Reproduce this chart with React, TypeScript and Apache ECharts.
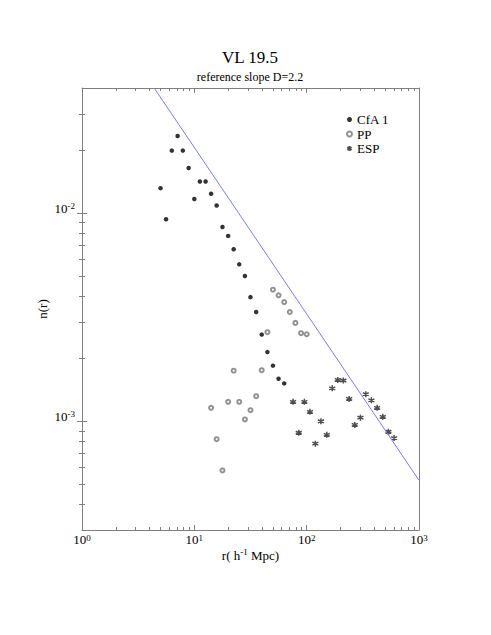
import React, { useEffect, useRef } from 'react';
import * as echarts from 'echarts';

// ---- data ----
const cfaR = [5.0, 5.6, 6.3, 7.1, 7.9, 8.9, 10.0, 11.2, 12.6, 14.1, 15.8, 17.8, 20.0, 22.4, 25.1, 28.2, 31.6, 35.5, 39.8, 44.7, 50.1, 56.2, 63.1];
const cfaN = [0.0132, 0.00936, 0.0200, 0.0235, 0.0200, 0.0165, 0.0117, 0.0142, 0.0142, 0.0124, 0.0109, 0.00859, 0.00778, 0.00671, 0.00568, 0.00499, 0.00395, 0.00335, 0.00261, 0.00215, 0.00185, 0.00160, 0.00152];

const ppR = [14.1, 15.8, 17.8, 20.0, 22.4, 25.1, 28.2, 31.6, 35.5, 39.8, 44.7, 50.1, 56.2, 63.1, 70.8, 79.4, 89.1, 100];
const ppN = [0.00116, 0.00082, 0.00058, 0.00124, 0.00175, 0.00124, 0.00102, 0.00113, 0.00132, 0.00176, 0.00268, 0.00429, 0.00403, 0.00374, 0.00335, 0.00297, 0.00265, 0.00262];

const espR = [75.7, 85, 95.4, 107, 119.5, 134, 151, 169, 189, 212, 239, 268, 301, 336, 377, 424, 476, 534, 600];
const espN = [0.00124, 0.00088, 0.00124, 0.00111, 0.00078, 0.00100, 0.00086, 0.00144, 0.00158, 0.00157, 0.00128, 0.00096, 0.00104, 0.00135, 0.00126, 0.00116, 0.00105, 0.00089, 0.00083];

// reference slope D=2.2 line endpoints
const refR = [4.39, 1000];
const refN = [0.04, 0.00052];

const seriesNames = ['CfA 1', 'PP', 'ESP'];
const titleText = 'VL 19.5';
const subtitleText = 'reference slope D=2.2';
const xName = 'r( h{s|-1} Mpc)';
const yName = 'n(r)';

const xMin = 1;
const xMax = 1000;
const yMin = 0.0003;
const yMax = 0.04;
const xMajorTicks = [1, 10, 100, 1000];
const xMinorTicks = [2, 3, 4, 5, 6, 7, 8, 9, 20, 30, 40, 50, 60, 70, 80, 90, 200, 300, 400, 500, 600, 700, 800, 900];
const yMajorTicks = [0.001, 0.01];
const yMinorTicks = [0.0004, 0.0005, 0.0006, 0.0007, 0.0008, 0.0009, 0.002, 0.003, 0.004, 0.005, 0.006, 0.007, 0.008, 0.009, 0.02, 0.03];

const FONT = '"Liberation Serif", "Times New Roman", serif';
const AXIS_COLOR = '#7f7f7f';
const REF_COLOR = '#7b7bf2';
const TEXT_COLOR = '#000000';

const ASTERISK = 'path://M5,0L5,10M0.67,2.5L9.33,7.5M0.67,7.5L9.33,2.5';

const lg = (v: number) => Math.log10(v);

function pairs(xs: number[], ys: number[]) {
  return xs.map((x, i) => [x, ys[i]]);
}

function supLabel(v: number) {
  const e = Math.round(Math.log10(v));
  return `{b|10}{s|${e}}`;
}

const labelRich = {
  b: { fontSize: 13, fontFamily: FONT, color: TEXT_COLOR, lineHeight: 13, verticalAlign: 'bottom' },
  s: { fontSize: 9, fontFamily: FONT, color: TEXT_COLOR, lineHeight: 9, verticalAlign: 'top', padding: [0, 0, 8, 0] },
};

const hidden = {
  axisLine: { show: false },
  splitLine: { show: false },
  minorTick: { show: false },
  minorSplitLine: { show: false },
  axisLabel: { show: false },
  axisPointer: { show: false },
};

// main log axes (line, labels, data)
function xMain(position: 'top' | 'bottom', showLabel: boolean) {
  const a: any = {
    type: 'log',
    logBase: 10,
    gridIndex: 0,
    position,
    min: xMin,
    max: xMax,
    axisLine: { show: true, onZero: false, lineStyle: { color: AXIS_COLOR, width: 1 } },
    axisTick: { show: false },
    minorTick: { show: false },
    splitLine: { show: false },
    minorSplitLine: { show: false },
    axisLabel: showLabel
      ? { show: true, color: TEXT_COLOR, customValues: xMajorTicks, formatter: supLabel, margin: 3, rich: labelRich }
      : { show: false },
  };
  if (showLabel) {
    a.name = xName;
    a.nameLocation = 'middle';
    a.nameGap = 17;
    a.nameMoveOverlap = false;
    a.nameTextStyle = {
      fontSize: 13,
      fontFamily: FONT,
      color: TEXT_COLOR,
      lineHeight: 16,
      rich: { s: { fontSize: 9, fontFamily: FONT, color: TEXT_COLOR, lineHeight: 9, verticalAlign: 'top' } },
    };
  }
  return a;
}

function yMain(position: 'left' | 'right', showLabel: boolean) {
  const a: any = {
    type: 'log',
    logBase: 10,
    gridIndex: 0,
    position,
    min: yMin,
    max: yMax,
    axisLine: { show: true, onZero: false, lineStyle: { color: AXIS_COLOR, width: 1 } },
    axisTick: { show: false },
    minorTick: { show: false },
    splitLine: { show: false },
    minorSplitLine: { show: false },
    axisLabel: showLabel
      ? { show: true, color: TEXT_COLOR, customValues: yMajorTicks, formatter: supLabel, margin: 7, padding: [0, 0, 10, 0], rich: labelRich }
      : { show: false },
  };
  if (showLabel) {
    a.name = yName;
    a.nameLocation = 'middle';
    a.nameGap = 33;
    a.nameMoveOverlap = false;
    a.nameTextStyle = { fontSize: 13, fontFamily: FONT, color: TEXT_COLOR };
  }
  return a;
}

// tick overlays: linear axes over the decade exponent, same span as the log axes
function xTicks(position: 'top' | 'bottom', ticks: number[], len: number) {
  return {
    ...hidden,
    type: 'value',
    gridIndex: 0,
    position,
    min: lg(xMin),
    max: lg(xMax),
    axisTick: { show: true, inside: true, length: len, customValues: ticks.map(lg), lineStyle: { color: AXIS_COLOR, width: 1 } },
  };
}

function yTicks(position: 'left' | 'right', ticks: number[], len: number) {
  return {
    ...hidden,
    type: 'value',
    gridIndex: 0,
    position,
    min: lg(yMin),
    max: lg(yMax),
    axisTick: { show: true, inside: true, length: len, customValues: ticks.map(lg), lineStyle: { color: AXIS_COLOR, width: 1 } },
  };
}

export default function App() {
  const ref = useRef<HTMLDivElement>(null);
  useEffect(() => {
    if (!ref.current) return;
    const chart = echarts.init(ref.current, null, { renderer: 'svg' });
    chart.setOption({
      animation: false,
      backgroundColor: '#fff',
      textStyle: { fontFamily: FONT, color: TEXT_COLOR },
      grid: { left: 82, right: 72, top: 88, bottom: 105, containLabel: false, outerBoundsMode: 'none', show: false },
      graphic: [
        { type: 'text', x: 250, y: 57, style: { text: titleText, font: `17px ${FONT}`, fill: TEXT_COLOR, textAlign: 'center', textVerticalAlign: 'middle' } },
        { type: 'text', x: 250, y: 77, style: { text: subtitleText, font: `12px ${FONT}`, fill: TEXT_COLOR, textAlign: 'center', textVerticalAlign: 'middle' } },
      ],
      legend: {
        show: true,
        orient: 'vertical',
        left: 346,
        top: 113,
        padding: 0,
        itemWidth: 5,
        itemHeight: 5,
        itemGap: 1.5,
        selectedMode: false,
        data: seriesNames,
        textStyle: { fontFamily: FONT, fontSize: 13, color: TEXT_COLOR },
      },
      xAxis: [
        xMain('bottom', true),
        xMain('top', false),
        xTicks('bottom', xMajorTicks, 5),
        xTicks('bottom', xMinorTicks, 3),
        xTicks('top', xMajorTicks, 5),
        xTicks('top', xMinorTicks, 3),
      ],
      yAxis: [
        yMain('left', true),
        yMain('right', false),
        yTicks('left', yMajorTicks, 5),
        yTicks('left', yMinorTicks, 3),
        yTicks('right', yMajorTicks, 5),
        yTicks('right', yMinorTicks, 3),
      ],
      series: [
        {
          type: 'line',
          name: 'reference',
          xAxisIndex: 0,
          yAxisIndex: 0,
          data: pairs(refR, refN),
          showSymbol: false,
          symbol: 'none',
          silent: true,
          lineStyle: { color: REF_COLOR, width: 1 },
        },
        {
          type: 'scatter',
          name: seriesNames[0],
          xAxisIndex: 0,
          yAxisIndex: 0,
          data: pairs(cfaR, cfaN),
          symbol: 'circle',
          symbolSize: 4.5,
          itemStyle: { color: '#000' },
        },
        {
          type: 'scatter',
          name: seriesNames[1],
          xAxisIndex: 0,
          yAxisIndex: 0,
          data: pairs(ppR, ppN),
          symbol: 'emptyCircle',
          symbolSize: 4,
          itemStyle: { color: '#777', borderColor: '#777', borderWidth: 0.8 },
        },
        {
          type: 'scatter',
          name: seriesNames[2],
          xAxisIndex: 0,
          yAxisIndex: 0,
          data: pairs(espR, espN),
          symbol: ASTERISK,
          symbolSize: 6,
          itemStyle: { color: '#222', borderColor: '#222', borderWidth: 1.5 },
        },
      ],
    });
    return () => chart.dispose();
  }, []);
  return <div ref={ref} style={{ position: 'fixed', left: 0, top: 0, width: 491, height: 635, background: '#fff' }} />;
}
